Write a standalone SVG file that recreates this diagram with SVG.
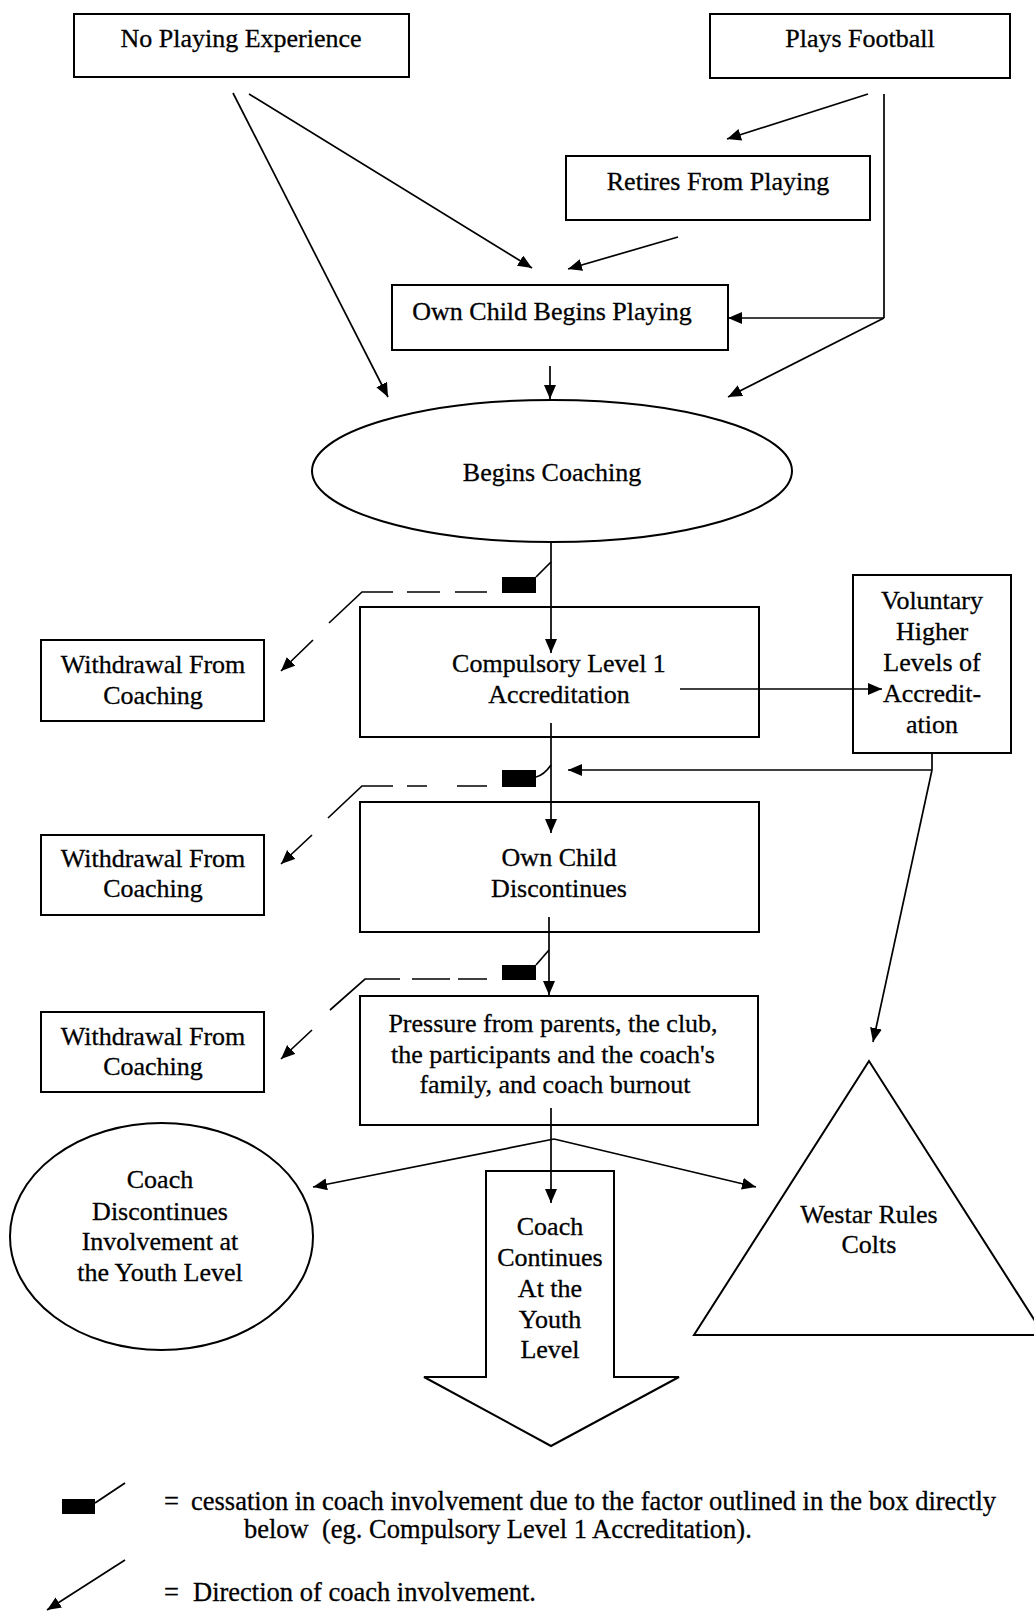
<svg xmlns="http://www.w3.org/2000/svg" width="1034" height="1612" viewBox="0 0 1034 1612">
<style>
  .box { fill: #fff; stroke: #000; stroke-width: 2; }
  .t { font-family: "Liberation Serif", "Times New Roman", serif; font-size: 26px; fill: #000; stroke: #000; stroke-width: 0.3; text-anchor: middle; }
  .l { font-family: "Liberation Serif", "Times New Roman", serif; font-size: 26.5px; fill: #000; stroke: #000; stroke-width: 0.3; }
  .c { fill: none; stroke: #000; stroke-width: 1.7; }
  .a { marker-end: url(#ah); }
  .stop { fill: #000; }
</style>
<defs>
  <marker id="ah" markerUnits="userSpaceOnUse" markerWidth="16" markerHeight="14" refX="14" refY="6" orient="auto">
    <path d="M0,0 L14,6 L0,12 z" fill="#000"/>
  </marker>
</defs>
<rect width="1034" height="1612" fill="#fff"/>

<g id="no-playing"><rect class="box" x="74" y="14" width="335" height="63"/><text class="t" x="241" y="47">No Playing Experience</text></g>
<g id="plays-football"><rect class="box" x="710" y="14" width="300" height="64"/><text class="t" x="860" y="47">Plays Football</text></g>
<g id="retires"><rect class="box" x="566" y="156" width="304" height="64"/><text class="t" x="718" y="190">Retires From Playing</text></g>
<g id="own-child-begins"><rect class="box" x="392" y="285" width="336" height="65"/><text class="t" x="552" y="320">Own Child Begins Playing</text></g>
<g id="begins-coaching"><ellipse class="box" cx="552" cy="471" rx="240" ry="71"/><text class="t" x="552" y="481">Begins Coaching</text></g>
<g id="compulsory"><rect class="box" x="360" y="607" width="399" height="130"/><text class="t" x="559" y="672">Compulsory Level 1</text><text class="t" x="559" y="703">Accreditation</text></g>
<g id="voluntary"><rect class="box" x="853" y="575" width="158" height="178"/>
  <text class="t" x="932" y="609">Voluntary</text><text class="t" x="932" y="640">Higher</text><text class="t" x="932" y="671">Levels of</text><text class="t" x="932" y="702">Accredit-</text><text class="t" x="932" y="733">ation</text></g>
<g id="withdrawal-1"><rect class="box" x="41" y="640" width="223" height="81"/><text class="t" x="153" y="673">Withdrawal From</text><text class="t" x="153" y="704">Coaching</text></g>
<g id="withdrawal-2"><rect class="box" x="41" y="835" width="223" height="80"/><text class="t" x="153" y="867">Withdrawal From</text><text class="t" x="153" y="897">Coaching</text></g>
<g id="withdrawal-3"><rect class="box" x="41" y="1012" width="223" height="80"/><text class="t" x="153" y="1045">Withdrawal From</text><text class="t" x="153" y="1075">Coaching</text></g>
<g id="own-child-discontinues"><rect class="box" x="360" y="802" width="399" height="130"/><text class="t" x="559" y="866">Own Child</text><text class="t" x="559" y="897">Discontinues</text></g>
<g id="pressure"><rect class="box" x="360" y="996" width="398" height="129"/>
  <text class="t" x="553" y="1032">Pressure from parents, the club,</text><text class="t" x="553" y="1063">the participants and the coach's</text><text class="t" x="555" y="1093">family, and coach burnout</text></g>
<g id="coach-discontinues"><ellipse class="box" cx="161.5" cy="1236.5" rx="151.5" ry="113.5"/>
  <text class="t" x="160" y="1188">Coach</text><text class="t" x="160" y="1220">Discontinues</text><text class="t" x="160" y="1250">Involvement at</text><text class="t" x="160" y="1281">the Youth Level</text></g>
<g id="coach-continues"><polygon class="box" points="486,1171 614,1171 614,1377 679,1377 551,1446 424,1377 486,1377"/>
  <text class="t" x="550" y="1235">Coach</text><text class="t" x="550" y="1266">Continues</text><text class="t" x="550" y="1297">At the</text><text class="t" x="550" y="1328">Youth</text><text class="t" x="550" y="1358">Level</text></g>
<g id="westar"><polygon class="box" points="869,1061 694,1335 1044,1335"/><text class="t" x="869" y="1223">Westar Rules</text><text class="t" x="869" y="1253">Colts</text></g>

<g id="connectors">
  <path class="c a" d="M233,93 L388,397"/>
  <path class="c a" d="M249,94 L532,268"/>
  <path class="c a" d="M868,94 L727,139"/>
  <path class="c a" d="M678,237 L568,269"/>
  <path class="c" d="M884,94 L884,318"/>
  <path class="c a" d="M884,318 L728,318"/>
  <path class="c a" d="M884,318 L728,397"/>
  <path class="c a" d="M550,366 L550,399"/>
  <path class="c a" d="M551,542 L551,653"/>
  <path class="c a" d="M551,723 L551,833"/>
  <path class="c a" d="M549,917 L549,995"/>
  <path class="c a" d="M680,689 L882,689"/>
  <path class="c" d="M932,753 L932,770"/>
  <path class="c a" d="M932,770 L568,770"/>
  <path class="c a" d="M932,770 L873,1042"/>
  <path class="c a" d="M551,1108 L551,1203"/>
  <path class="c a" d="M554,1139 L313,1187"/>
  <path class="c a" d="M554,1139 L756,1187"/>
  <rect class="stop" x="502" y="577" width="34" height="16"/>
  <path class="c" d="M536,577 L551,562"/>
  <path class="c a" d="M487,592 H455 M440,592 H407 M393,592 H362 L329,623 M313,640 L281,671"/>
  <rect class="stop" x="502" y="770" width="34" height="17"/>
  <path class="c" d="M536,777 Q544,775 551,765"/>
  <path class="c a" d="M487,786 H457 M427,786 H407 M393,786 H362 L328,818 M312,835 L281,864"/>
  <rect class="stop" x="502" y="965" width="34" height="15"/>
  <path class="c" d="M536,965 L549,950"/>
  <path class="c a" d="M487,979 H458 M450,979 H412 M400,979 H365 L330,1010 M312,1030 L281,1059"/>
</g>

<g id="legend">
  <rect class="stop" x="62" y="1499" width="33" height="15"/>
  <path class="c" d="M95,1503 L125,1483"/>
  <text class="l" x="164" y="1510">=<tspan x="191">cessation in coach involvement due to the factor outlined in the box directly</tspan></text>
  <text class="l" x="244" y="1538" style="white-space:pre">below  (eg. Compulsory Level 1 Accreditation).</text>
  <path class="c a" d="M125,1560 L47,1610"/>
  <text class="l" x="164" y="1601">=<tspan x="193">Direction of coach involvement.</tspan></text>
</g>
</svg>
